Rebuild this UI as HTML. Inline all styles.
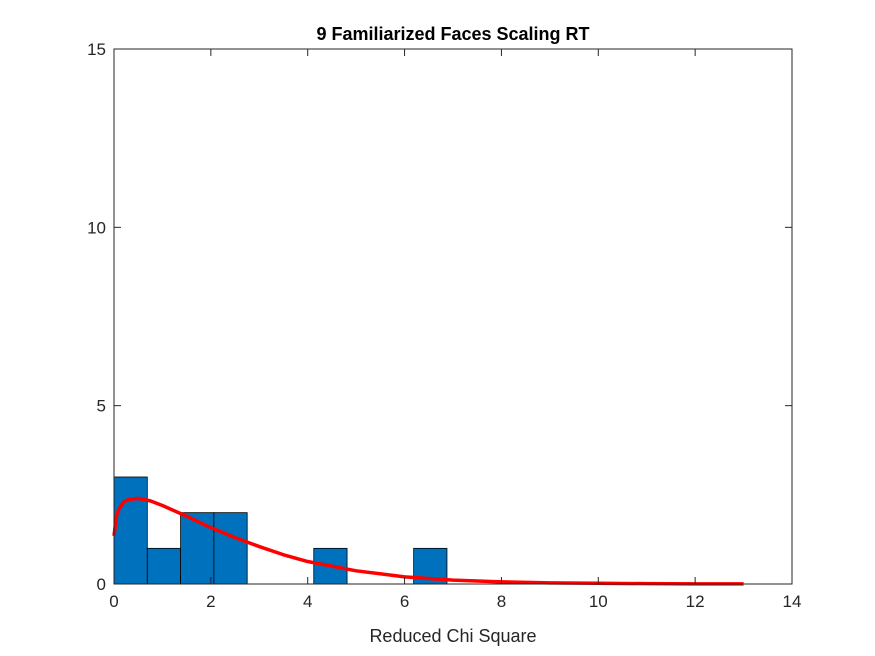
<!DOCTYPE html>
<html><head><meta charset="utf-8"><style>
body{margin:0;background:#fff;}
svg{display:block;font-family:"Liberation Sans",Arial,sans-serif;}
</style></head><body>
<svg id="chart" width="875" height="656"></svg>
<script>
const binEdgesStart = 0;
const binWidth = 0.6875;
const binCounts = [3,1,2,2,0,0,1,0,0,1];
const curveX = [0,0.05,0.1,0.2,0.3,0.5,0.75,1,1.5,2,2.5,3,3.5,4,5,6,7,8,9,10,11,12,13];
const curveY = [1.35,1.9,2.1,2.3,2.37,2.4,2.33,2.2,1.9,1.58,1.3,1.05,0.82,0.63,0.37,0.2,0.11,0.06,0.03,0.02,0.01,0.005,0.003];
const xTicks = [0,2,4,6,8,10,12,14];
const yTicks = [0,5,10,15];

const L=114,R=792,T=49,B=584;
const xs=v=>L+(v-0)/14*(R-L);
const ys=v=>B-(v/15)*(B-T);
const NS='http://www.w3.org/2000/svg';
const svg=document.getElementById('chart');
function mk(tag,attrs,parent){const e=document.createElementNS(NS,tag);for(const k in attrs)e.setAttribute(k,attrs[k]);(parent||svg).appendChild(e);return e;}

const bg=mk('rect',{x:L,y:T,width:R-L,height:B-T,fill:'#fff'});



binCounts.forEach((c,i)=>{
  if(c<=0)return;
  const x0=xs(binEdgesStart+i*binWidth),x1=xs(binEdgesStart+(i+1)*binWidth);
  const r=mk('rect',{x:x0,y:ys(c),width:x1-x0,height:ys(0)-ys(c),fill:'#0072BD',stroke:'#000','stroke-width':0.8});
  
  
});

const pts=curveX.map((x,i)=>xs(x)+','+ys(curveY[i])).join(' ');
const pl=mk('polyline',{points:pts,fill:'none',stroke:'#ff0000','stroke-width':3.5,'stroke-linejoin':'round'});



const box=mk('rect',{x:L,y:T,width:R-L,height:B-T,fill:'none',stroke:'#262626','stroke-width':1});



xTicks.forEach(v=>{
  const x=xs(v);
  mk('line',{x1:x,y1:B,x2:x,y2:B-7,stroke:'#262626'});
  mk('line',{x1:x,y1:T,x2:x,y2:T+7,stroke:'#262626'});
  const t=mk('text',{x:x,y:B+23,'text-anchor':'middle','font-size':17,fill:'#262626'});
  t.textContent=v;
  
  
});
yTicks.forEach(v=>{
  const y=ys(v);
  mk('line',{x1:L,y1:y,x2:L+7,y2:y,stroke:'#262626'});
  mk('line',{x1:R,y1:y,x2:R-7,y2:y,stroke:'#262626'});
  const t=mk('text',{x:L-8,y:y+6,'text-anchor':'end','font-size':17,fill:'#262626'});
  t.textContent=v;
  
  
});

const title=mk('text',{x:(L+R)/2,y:40,'text-anchor':'middle','font-size':18,'font-weight':'bold',fill:'#000'});
title.textContent='9 Familiarized Faces Scaling RT';



const xl=mk('text',{x:(L+R)/2,y:642,'text-anchor':'middle','font-size':18,fill:'#262626'});
xl.textContent='Reduced Chi Square';


</script>
</body></html>
